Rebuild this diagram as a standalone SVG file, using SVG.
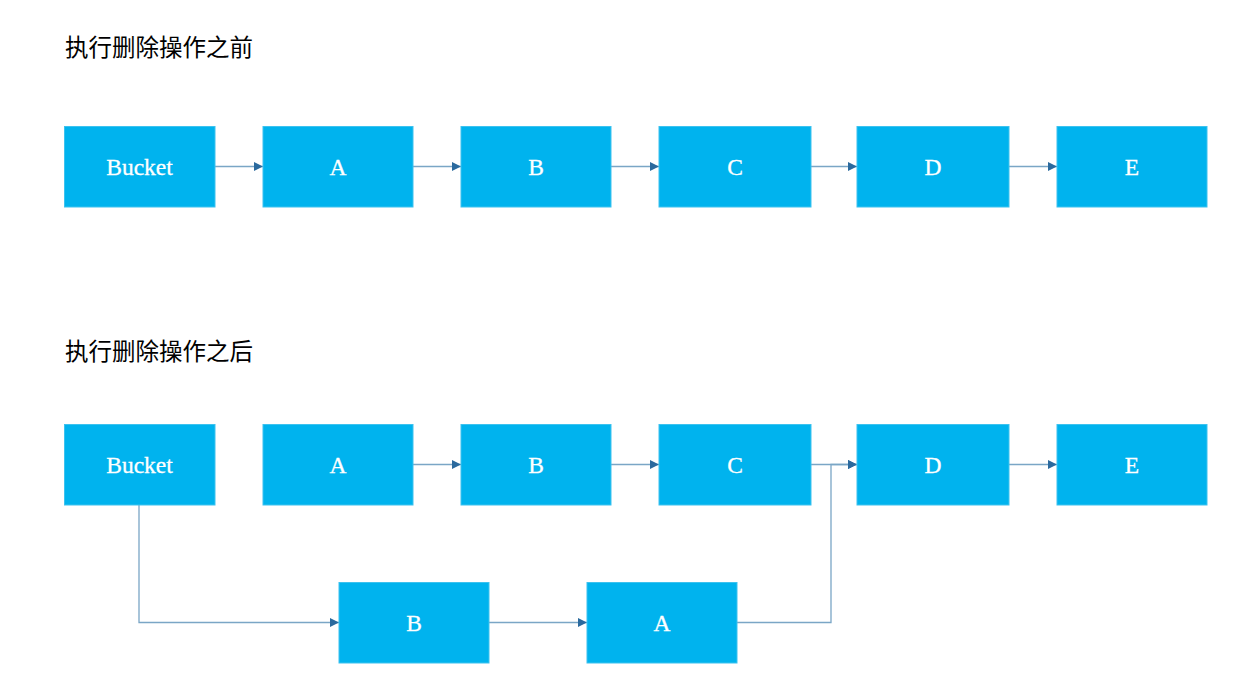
<svg xmlns="http://www.w3.org/2000/svg" width="1252" height="698" viewBox="0 0 1252 698">
<defs>
<marker id="arr" viewBox="0 0 10 10" refX="10" refY="5" markerWidth="9" markerHeight="10" markerUnits="userSpaceOnUse" orient="auto">
<path d="M0,0 L10,5 L0,10 Z" fill="#2b6a9e"/>
</marker>
<style>
.box{fill:#00b3ee;stroke:#3cc2ef;stroke-width:1}
.lbl{font-family:"Liberation Serif","Times New Roman",serif;font-size:23.5px;fill:#ffffff;text-anchor:middle;stroke:#ffffff;stroke-width:0.3}
.title{font-family:"Liberation Serif","Noto Sans CJK SC",serif;font-size:23.5px;fill:#000000}
.edge{fill:none;stroke:#7aa6c6;stroke-width:1.3;marker-end:url(#arr)}
</style>
</defs>
<rect width="1252" height="698" fill="#ffffff"/>
<text class="title" x="65" y="56">执行删除操作之前</text>
<text class="title" x="65" y="360">执行删除操作之后</text>

<g id="connectors">
<path class="edge" d="M215,166.5 H263"/>
<path class="edge" d="M413,166.5 H461"/>
<path class="edge" d="M611,166.5 H659"/>
<path class="edge" d="M811,166.5 H857"/>
<path class="edge" d="M1009,166.5 H1057"/>
<path class="edge" d="M413,464.5 H461"/>
<path class="edge" d="M611,464.5 H659"/>
<path class="edge" d="M811,464.5 H857"/>
<path class="edge" d="M1009,464.5 H1057"/>
<path class="edge" d="M139,505 V622.5 H339"/>
<path class="edge" d="M489,622.5 H587"/>
<path class="edge" d="M737,622.5 H831 V464.5 H857"/>
</g>

<g id="t-bucket"><rect class="box" x="64.5" y="126.5" width="150.5" height="80.5"/><text class="lbl" x="139.5" y="174.5">Bucket</text></g>
<g id="t-a"><rect class="box" x="263" y="126.5" width="150" height="80.5"/><text class="lbl" x="338" y="174.5">A</text></g>
<g id="t-b"><rect class="box" x="461" y="126.5" width="150" height="80.5"/><text class="lbl" x="536" y="174.5">B</text></g>
<g id="t-c"><rect class="box" x="659" y="126.5" width="152" height="80.5"/><text class="lbl" x="735" y="174.5">C</text></g>
<g id="t-d"><rect class="box" x="857" y="126.5" width="152" height="80.5"/><text class="lbl" x="933" y="174.5">D</text></g>
<g id="t-e"><rect class="box" x="1057" y="126.5" width="150" height="80.5"/><text class="lbl" x="1132" y="174.5">E</text></g>

<g id="b-bucket"><rect class="box" x="64.5" y="424.5" width="150.5" height="80.5"/><text class="lbl" x="139.5" y="472.5">Bucket</text></g>
<g id="b-a"><rect class="box" x="263" y="424.5" width="150" height="80.5"/><text class="lbl" x="338" y="472.5">A</text></g>
<g id="b-b"><rect class="box" x="461" y="424.5" width="150" height="80.5"/><text class="lbl" x="536" y="472.5">B</text></g>
<g id="b-c"><rect class="box" x="659" y="424.5" width="152" height="80.5"/><text class="lbl" x="735" y="472.5">C</text></g>
<g id="b-d"><rect class="box" x="857" y="424.5" width="152" height="80.5"/><text class="lbl" x="933" y="472.5">D</text></g>
<g id="b-e"><rect class="box" x="1057" y="424.5" width="150" height="80.5"/><text class="lbl" x="1132" y="472.5">E</text></g>

<g id="l-b"><rect class="box" x="339" y="582.5" width="150" height="80.5"/><text class="lbl" x="414" y="630.5">B</text></g>
<g id="l-a"><rect class="box" x="587" y="582.5" width="150" height="80.5"/><text class="lbl" x="662" y="630.5">A</text></g>
</svg>
